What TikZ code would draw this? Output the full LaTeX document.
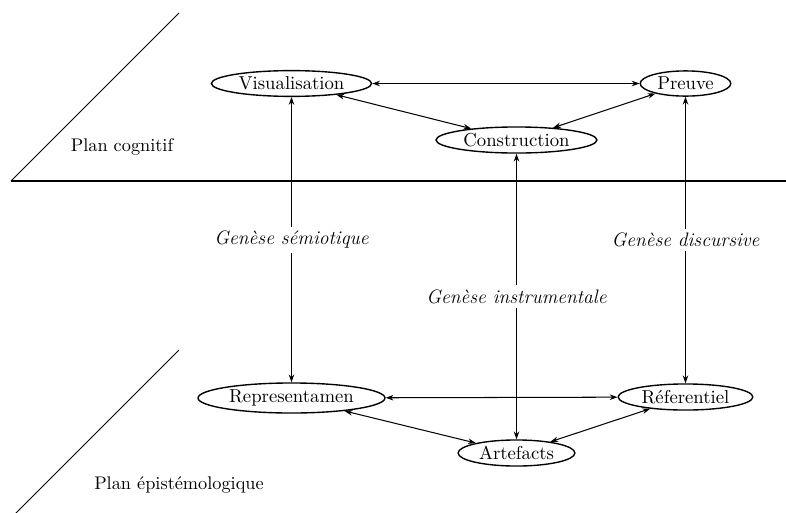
\documentclass[tikz,border=0pt]{standalone}
\usepackage{amsmath}
\usepackage{amssymb}
\usetikzlibrary{arrows, arrows.meta}
\usetikzlibrary{shapes.geometric}

\begin{document}
\begin{tikzpicture}[x=0.58pt, y=-0.58pt, >={Stealth[length=4.5pt, width=3.2pt]},
    every node/.style={font=\fontsize{10.6}{13}\selectfont},
    pole/.style={ellipse, draw, thick, inner xsep=2.2pt, inner ysep=1.4pt,
      font=\fontsize{10.85}{13}\selectfont},
    genese/.style={fill=white, font=\fontsize{11.3}{14}\selectfont\itshape,
      inner xsep=2pt, inner ysep=2.5pt}]
    \useasboundingbox (0,0) rectangle (786,513);

    % les deux plans
    \draw[thick] (11,181) -- (786,181);
    \draw[semithick] (11,181) -- (179,13);
    \draw[semithick] (179,350) -- (14,515);
    \node (cog) at (122,147) {Plan cognitif};
    \node (epi) at (179,485) {Plan \'epist\'emologique};

    % plan cognitif
    \node[pole] (vis) at (291.5,83.5) {Visualisation};
    \node[pole] (preuve) at (685.5,83.5) {Preuve};
    \node[pole] (con) at (516.5,140) {Construction};

    % plan epistemologique
    \node[pole] (rep) at (291.5,398) {Representamen};
    \node[pole] (ref) at (685.5,397) {R\'eferentiel};
    \node[pole] (art) at (516.5,453) {Artefacts};

    \draw[semithick, <->] (vis) -- (preuve);
    \draw[semithick, <->] (vis) -- (con);
    \draw[semithick, <->] (con) -- (preuve);
    \draw[semithick, <->] (rep) -- (ref);
    \draw[semithick, <->] (rep) -- (art);
    \draw[semithick, <->] (art) -- (ref);

    % les geneses
    \draw[semithick, <->] (vis) -- node[genese] {Gen\`ese s\'emiotique} (rep);
    \draw[semithick, <->] (con) -- node[genese] {Gen\`ese instrumentale} (art);
    \draw[semithick, <->] (preuve) -- node[genese] {Gen\`ese discursive} (ref);
\end{tikzpicture}
\end{document}
